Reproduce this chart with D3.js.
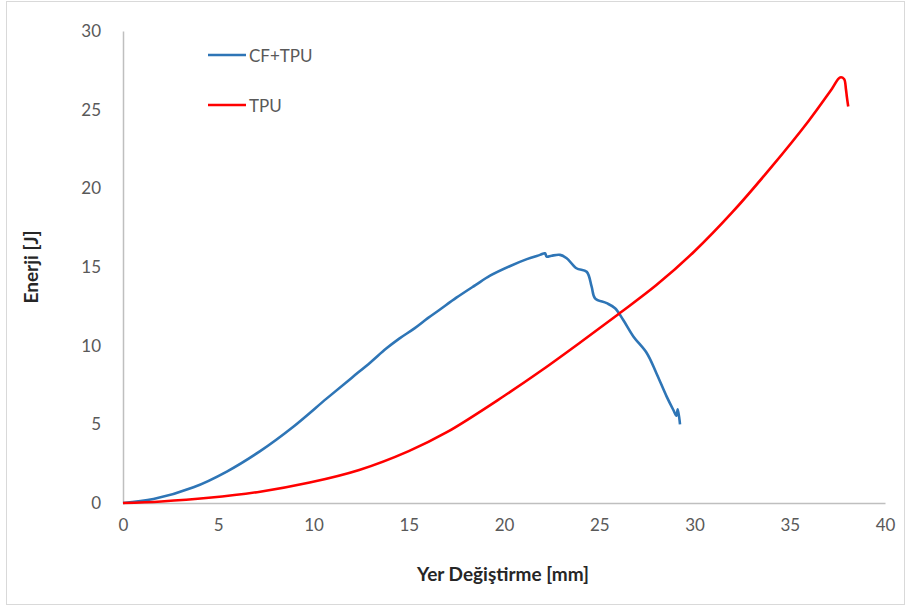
<!DOCTYPE html>
<meta charset="utf-8">
<style>
body { margin: 0; background: #fff; }
text { font-family: Lato, "Open Sans", sans-serif; }
</style>
<svg width="906" height="607"></svg>
<script src="https://d3js.org/d3.v7.min.js"></script>
<script>
// CF+TPU curve
var cfX = [0, 1.6, 3.7, 5.45, 7.2, 8.94, 10.7, 12, 13, 13.8, 14.5, 15.3, 16, 16.64, 17.5, 18.5, 19.27, 20.3, 21.2, 21.89, 22.15, 22.24, 22.5, 22.94, 23.29, 23.8, 24.34, 24.6, 24.78, 25.39, 25.83, 26.26, 26.8, 27.5, 28.0, 28.54, 28.89, 29.05, 29.12, 29.24]
var cfY = [0, 0.25, 1.0, 2.0, 3.3, 4.85, 6.65, 7.95, 8.95, 9.8, 10.45, 11.1, 11.75, 12.3, 13.05, 13.85, 14.45, 15.05, 15.5, 15.77, 15.87, 15.66, 15.72, 15.77, 15.56, 14.92, 14.7, 13.75, 13.01, 12.7, 12.38, 11.63, 10.57, 9.52, 8.25, 6.76, 5.91, 5.55, 5.95, 5.0]

// TPU curve
var tpuX = [0, 2, 4.5, 7.2, 9.8, 12.4, 15, 17, 20, 22, 24, 26, 28, 30, 32, 34, 36, 37.2, 37.64, 37.85, 37.95, 38.0, 38.07]
var tpuY = [0, 0.1, 0.33, 0.72, 1.3, 2.1, 3.3, 4.5, 6.8, 8.45, 10.2, 12.0, 13.85, 16.0, 18.5, 21.3, 24.3, 26.3, 27.05, 26.95, 26.3, 25.8, 25.2]

var xTicks = [0, 5, 10, 15, 20, 25, 30, 35, 40]
var yTicks = [0, 5, 10, 15, 20, 25, 30]

var seriesNames = ['CF+TPU', 'TPU']
var seriesColors = ['#2E75B6', '#FF0000']

var svg = d3.select('svg')

// outer chart border
svg.append('rect')
  .attr('x', 6.5).attr('y', 1.5)
  .attr('width', 898).attr('height', 603)
  .attr('fill', 'none')
  .attr('stroke', '#d9d9d9')

var x = d3.scaleLinear().domain([0, 40]).range([123, 885])
var y = d3.scaleLinear().domain([0, 30]).range([503, 31])

// axes
var xAxis = svg.append('g')
  .attr('transform', 'translate(0,' + y(0) + ')')
  .call(d3.axisBottom(x).tickValues(xTicks).tickSize(0).tickPadding(16))
var yAxis = svg.append('g')
  .attr('transform', 'translate(' + x(0) + ',0)')
  .call(d3.axisLeft(y).tickValues(yTicks).tickSize(0).tickPadding(22))

;[xAxis, yAxis].forEach(function (a) {
  a.select('.domain').attr('stroke', '#bfbfbf').attr('stroke-width', 1.5)
  a.selectAll('text')
    .attr('fill', '#595959')
    .attr('font-size', 17)
    .attr('font-family', 'Lato, sans-serif')
})

// axis titles
svg.append('text')
  .attr('x', 503).attr('y', 581)
  .attr('text-anchor', 'middle')
  .attr('font-size', 19)
  .attr('font-weight', 'bold')
  .attr('fill', '#262626')
  .text('Yer Değiştirme [mm]')

svg.append('text')
  .attr('transform', 'translate(38,267) rotate(-90)')
  .attr('text-anchor', 'middle')
  .attr('font-size', 19)
  .attr('font-weight', 'bold')
  .attr('fill', '#262626')
  .text('Enerji [J]')

// lines
var line = d3.line()
  .x(function (d) { return x(d[0]) })
  .y(function (d) { return y(d[1]) })
  .curve(d3.curveCatmullRom.alpha(0.5))

var series = [d3.zip(cfX, cfY), d3.zip(tpuX, tpuY)]

series.forEach(function (pts, i) {
  svg.append('path')
    .datum(pts)
    .attr('d', line)
    .attr('fill', 'none')
    .attr('stroke', seriesColors[i])
    .attr('stroke-width', 2.6)
    .attr('stroke-linejoin', 'round')
})

// legend
var legend = svg.append('g')
seriesNames.forEach(function (name, i) {
  var ly = 55 + i * 50
  legend.append('line')
    .attr('x1', 208).attr('x2', 246)
    .attr('y1', ly).attr('y2', ly)
    .attr('stroke', seriesColors[i])
    .attr('stroke-width', 2.6)
  legend.append('text')
    .attr('x', 249).attr('y', ly)
    .attr('dominant-baseline', 'central')
    .attr('font-size', 17)
    .attr('fill', '#595959')
    .text(name)
})
</script>
